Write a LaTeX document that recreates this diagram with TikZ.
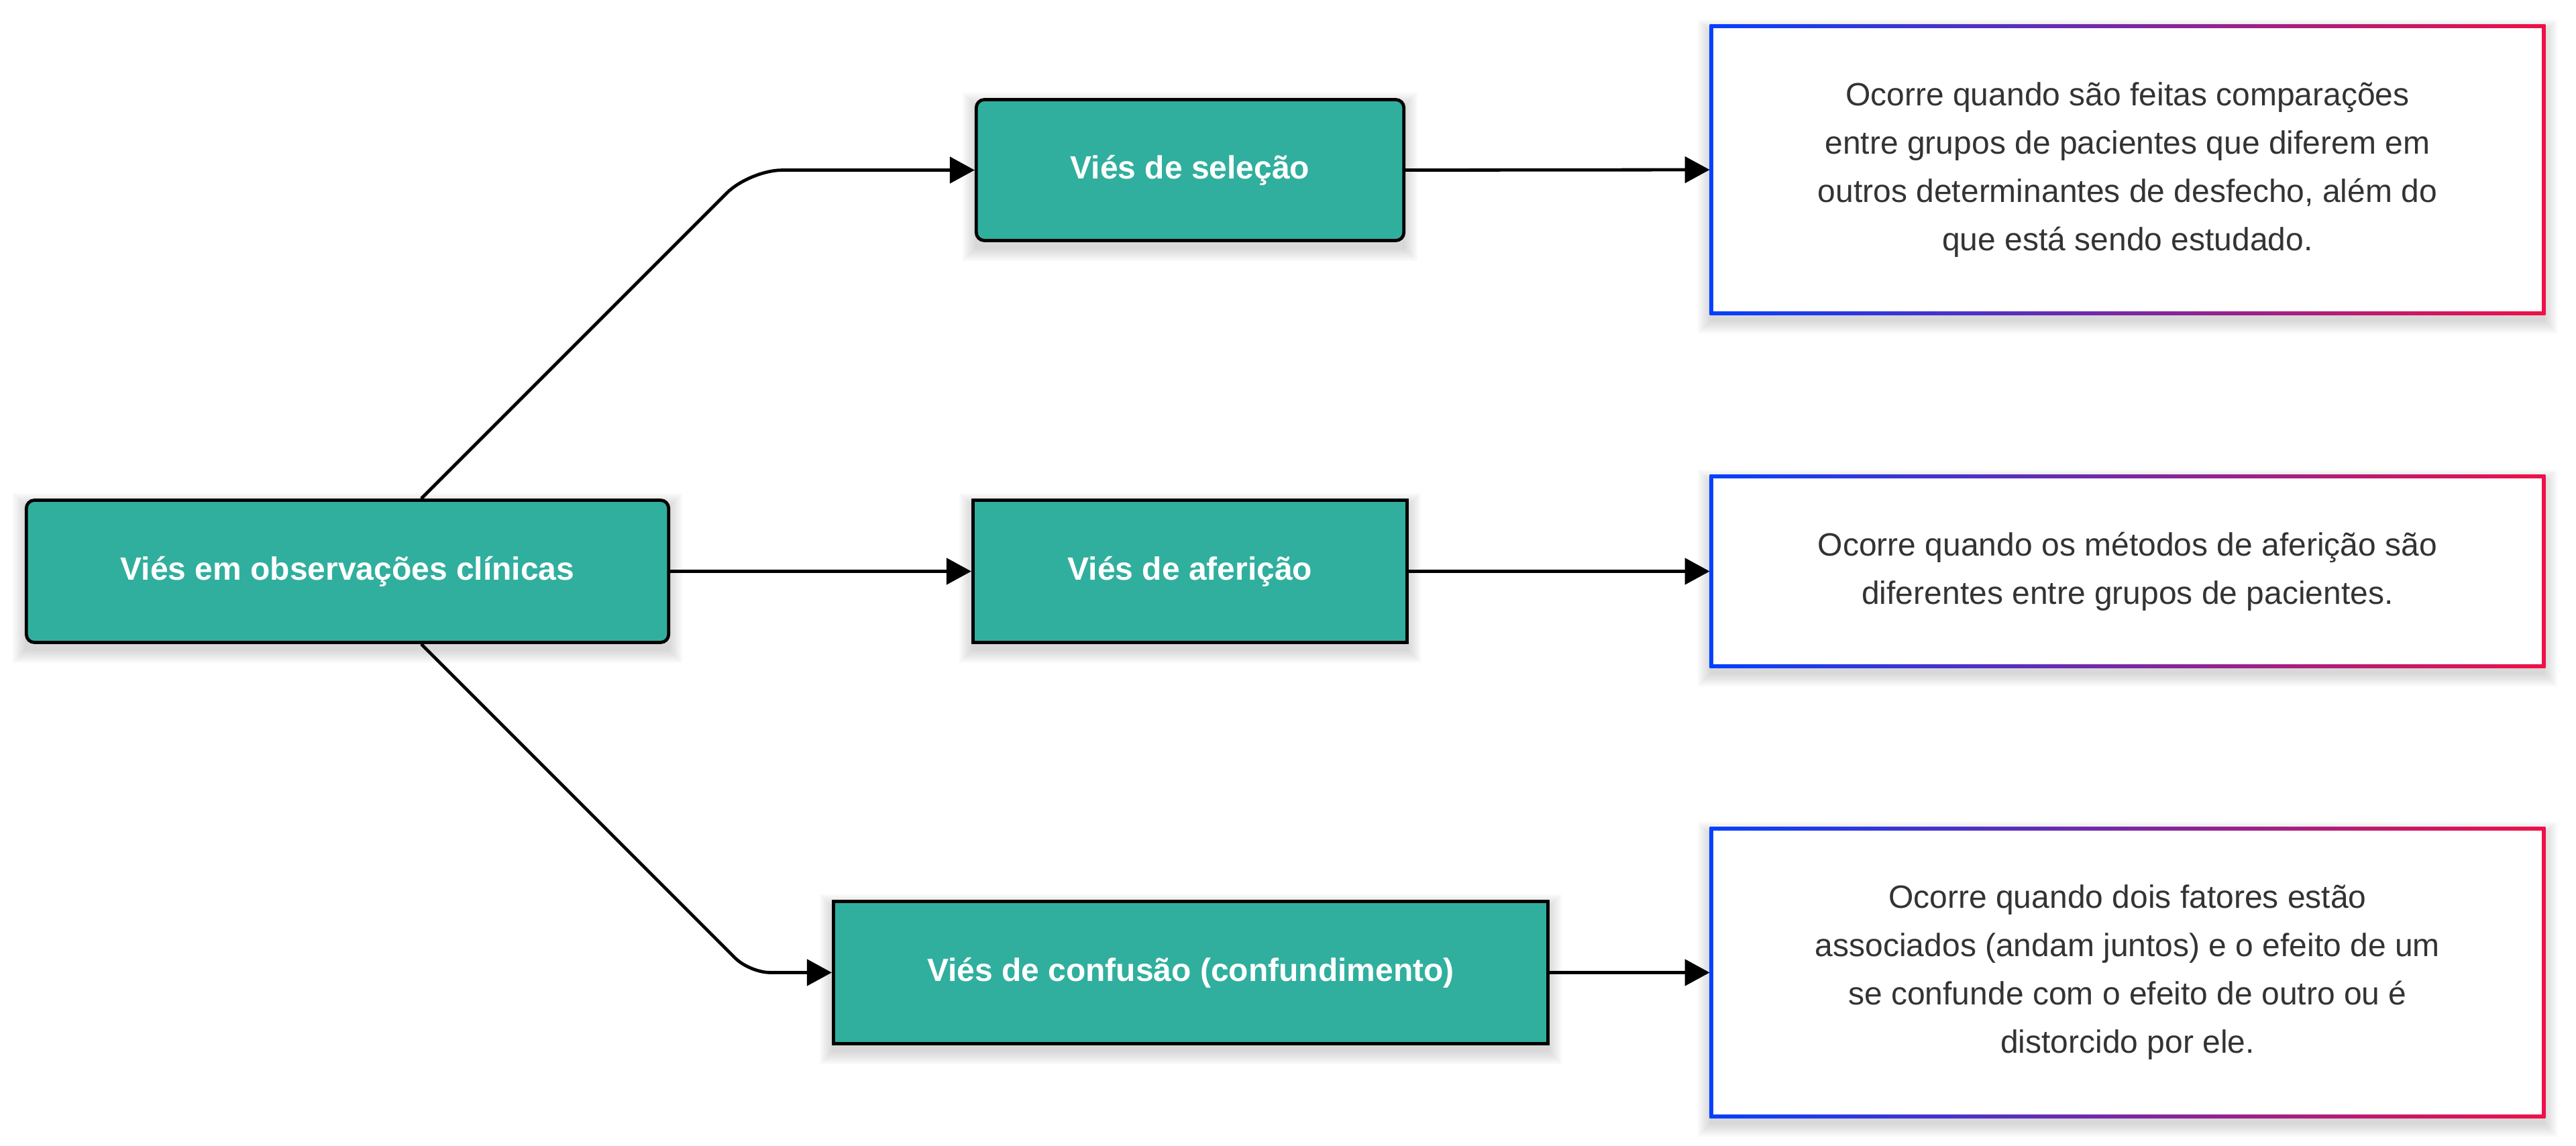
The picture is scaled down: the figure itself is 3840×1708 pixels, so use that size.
\documentclass[tikz,border=0pt]{standalone}
\usepackage{fontspec}
\setmainfont{Liberation Sans}
\usetikzlibrary{arrows.meta,backgrounds}
\definecolor{teal1}{RGB}{49,175,158}
\definecolor{txtgrey}{RGB}{51,51,51}
\definecolor{gblue}{RGB}{5,64,255}
\definecolor{gred}{RGB}{240,16,72}
\newcommand\boxshadow[1]{%
  \foreach \r in {0,3,...,18} {%
    \fill[black,opacity=0.022]
      ([xshift=-\r*0.5pt,yshift=-5pt-\r*0.5pt]#1.south west) rectangle
      ([xshift=\r*0.5pt,yshift=\r*0.5pt-5pt]#1.north east);
  }%
}
\newcommand\gradframe[1]{%
  \shade[left color=gblue,right color=gred] (#1.south west) rectangle (#1.north east);
  \fill[white] ([xshift=2.5pt,yshift=2.5pt]#1.south west) rectangle ([xshift=-2.5pt,yshift=-2.5pt]#1.north east);
}
\begin{document}
\begin{tikzpicture}[x=0.5pt,y=-0.5pt,
  mainbox/.style={draw=black,line width=2.4pt,fill=teal1,text=white,
    font=\fontsize{24}{36}\selectfont\bfseries,inner sep=0pt,anchor=center},
  descbox/.style={inner sep=0pt,align=center,text=txtgrey,anchor=center,
    font=\fontsize{24}{36}\selectfont,minimum width=622.5pt},
  conn/.style={line width=2.4pt,-{Triangle[length=18.5pt,width=19.5pt]}}
]
\useasboundingbox (0,0) rectangle (3840,1708);

% main boxes
\node[mainbox,rounded corners=6pt,minimum width=478.7pt,minimum height=106pt] (root) at (518,851.5) {Viés em observações clínicas};
\node[mainbox,rounded corners=6pt,minimum width=318.7pt,minimum height=105pt] (sel) at (1774,253.5) {Viés de seleção};
\node[mainbox,minimum width=323.7pt,minimum height=106pt] (afer) at (1774,851.5) {Viés de aferição};
\node[mainbox,minimum width=532.7pt,minimum height=106pt] (conf) at (1775,1449.5) {Viés de confusão (confundimento)};

% description boxes
\node[descbox,minimum height=216pt] (d1) at (3171.5,253) {Ocorre quando são feitas comparações\\entre grupos de pacientes que diferem em\\outros determinantes de desfecho, além do\\que está sendo estudado.};
\node[descbox,minimum height=143.5pt] (d2) at (3171.5,851.5) {Ocorre quando os métodos de aferição são\\diferentes entre grupos de pacientes.};
\node[descbox,minimum height=216.5pt] (d3) at (3171.5,1449.5) {Ocorre quando dois fatores estão\\associados (andam juntos) e o efeito de um\\se confunde com o efeito de outro ou é\\distorcido por ele.};

\begin{scope}[on background layer]
  \boxshadow{root}
  \boxshadow{sel}
  \boxshadow{afer}
  \boxshadow{conf}
  \boxshadow{d1}
  \boxshadow{d2}
  \boxshadow{d3}
  \gradframe{d1}
  \gradframe{d2}
  \gradframe{d3}
\end{scope}

% connectors
\draw[conn,rounded corners=24pt] ([xshift=55pt]root.north) -- ++(489.5,-489.5) -- (sel.west);
\draw[conn] (root.east) -- (afer.west);
\draw[conn,rounded corners=15pt] ([xshift=55pt]root.south) -- ++(489.5,489.5) -- (conf.west);
\draw[conn] (sel.east) -- (d1.west);
\draw[conn] (afer.east) -- (d2.west);
\draw[conn] (conf.east) -- (d3.west);
\end{tikzpicture}
\end{document}
